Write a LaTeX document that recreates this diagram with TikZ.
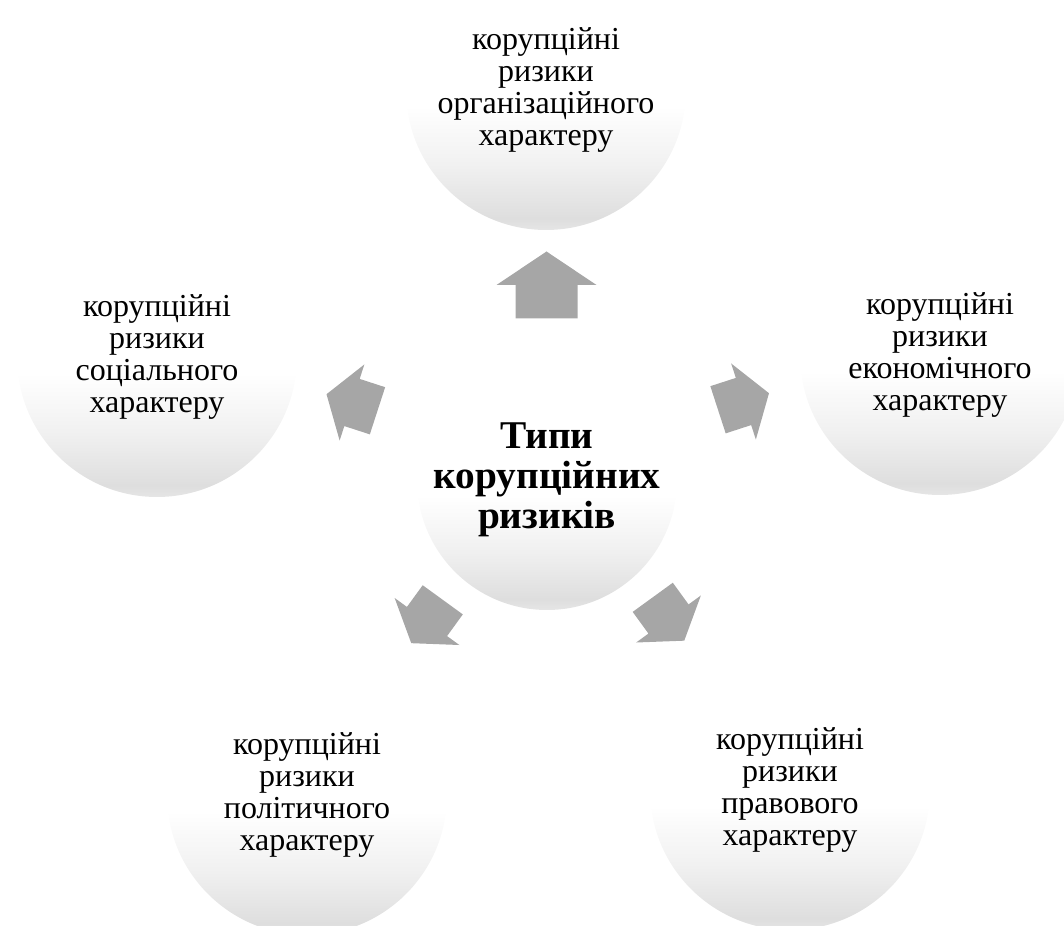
\documentclass[tikz,border=0pt]{standalone}
\usepackage{fontspec}
\setmainfont{Liberation Serif}
\usetikzlibrary{positioning, calc}
\pgfdeclareverticalshading{bubbleshade}{100bp}{color(0bp)=(black!10); color(25bp)=(black!10); color(27bp)=(black!13); color(36bp)=(black!6); color(47bp)=(white); color(100bp)=(white)}
\definecolor{arrowgray}{RGB}{166,166,166}

\begin{document}
\begin{tikzpicture}[
    x=0.75pt, y=0.75pt,
    bubble/.style={circle, shading=bubbleshade, minimum size=210pt, inner sep=0pt,
                   align=center, font=\fontsize{24}{24}\selectfont},
    hub/.style={bubble, minimum size=195pt, font=\fontsize{29.5}{30}\selectfont\bfseries},
    blockarrow/.pic={\fill[arrowgray] (-33.5,-31) -- (0,-31) -- (0,-50) -- (33.5,0)
                     -- (0,50) -- (0,31) -- (-33.5,31) -- cycle;},
]
\clip (0,0) rectangle (1064,925);
\useasboundingbox (0,0) rectangle (1064,925);

\node[hub] (centre) at (547,445) {Типи\\корупційних\\ризиків};
\node[bubble] (top) at (546,835) {корупційні\\ризики\\організаційного\\характеру};
\node[bubble] (left) at (157,568) {корупційні\\ризики\\соціального\\характеру};
\node[bubble] (right) at (940,570) {корупційні\\ризики\\економічного\\характеру};
\node[bubble] (botleft) at (307,130) {корупційні\\ризики\\політичного\\характеру};
\node[bubble] (botright) at (790,135) {корупційні\\ризики\\правового\\характеру};

% arrows from the centre outwards
\pic[rotate=90] at ($(centre)!0.5!(top)$) {blockarrow};
\foreach \b/\ang in {left/162, right/18, botleft/234, botright/306}{
    \pic[rotate=\ang, scale=0.8] at ($(centre)!0.5!(\b)+(0,16)$) {blockarrow};
}

\end{tikzpicture}
\end{document}
